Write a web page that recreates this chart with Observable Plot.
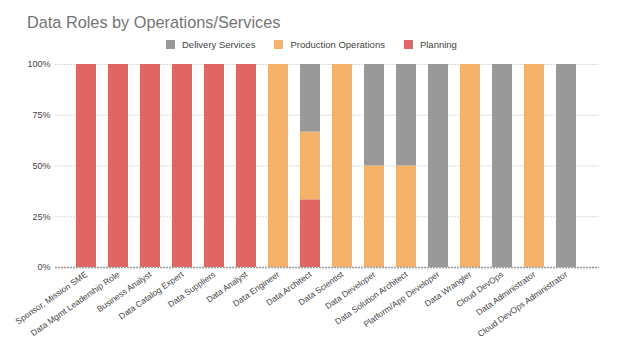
<!DOCTYPE html>
<html>
<head>
<meta charset="utf-8">
<script src="https://cdn.jsdelivr.net/npm/d3@7"></script>
<script src="https://cdn.jsdelivr.net/npm/@observablehq/plot@0.6"></script>
<style>
  body { margin: 0; background: #fff; font-family: "Liberation Sans", Arial, sans-serif; }
  #wrap { position: relative; width: 624px; height: 356px; overflow: hidden; }
  #title { position: absolute; left: 27px; top: 13px; font-size: 16.3px; color: #757575; }
  #legend { position: absolute; left: 166px; top: 39px; font-size: 9.5px; color: #444; display: flex; align-items: center; }
  .sw { display: inline-block; width: 9px; height: 9px; margin-right: 7px; }
  .item { display: flex; align-items: center; margin-right: 19px; }
  #chart { position: absolute; left: 0; top: 50px; }
</style>
</head>
<body>
<div id="wrap">
  <div id="title">Data Roles by Operations/Services</div>
  <div id="legend"></div>
  <div id="chart"></div>
</div>
<script>
const roles = ["Sponsor, Mission SME","Data Mgmt Leadership Role","Business Analyst","Data Catalog Expert","Data Suppliers","Data Analyst","Data Engineer","Data Architect","Data Scientist","Data Developer","Data Solution Architect","Platform/App Developer","Data Wrangler","Cloud DevOps","Data Administrator","Cloud DevOps Administrator"];
const seriesNames = ["Planning","Production Operations","Delivery Services"];
const legendOrder = ["Delivery Services","Production Operations","Planning"];
const seriesColors = ["#e06666","#f6b26b","#999999"];
const planning   = [1,1,1,1,1,1,0,1,0,0,0,0,0,0,0,0];
const production = [0,0,0,0,0,0,1,1,1,1,1,0,1,0,1,0];
const delivery   = [0,0,0,0,0,0,0,1,0,1,1,1,0,1,0,1];
const yTicks = [0, 0.25, 0.5, 0.75, 1];
const yTickLabels = ["0%","25%","50%","75%","100%"];

const valuesBySeries = [planning, production, delivery];
const table = [];
seriesNames.forEach((s, si) => roles.forEach((r, ri) => table.push({role: r, series: s, value: valuesBySeries[si][ri]})));

const legend = document.getElementById("legend");
legendOrder.forEach(name => {
  const d = document.createElement("div");
  d.className = "item";
  d.innerHTML = `<span class="sw" style="background:${seriesColors[seriesNames.indexOf(name)]}"></span>${name}`;
  legend.appendChild(d);
});

const chart = Plot.plot({
  width: 624,
  height: 306,
  marginTop: 14,
  marginBottom: 89,
  marginLeft: 60,
  marginRight: 31,
  style: {fontFamily: "Liberation Sans, Arial, sans-serif", fontSize: "9px", color: "#444", background: "#fff"},
  x: {domain: roles, padding: 0.37, label: null},
  y: {domain: [0, 1], label: null},
  color: {domain: seriesNames, range: seriesColors},
  marks: [
    Plot.ruleY(yTicks.filter(d => d > 0), {stroke: "#d9d9d9", strokeDasharray: "2,1", insetLeft: -5, insetRight: -6}),
    Plot.barY(table, Plot.stackY({x: "role", y: "value", fill: "series", order: seriesNames, offset: "normalize"})),
    Plot.ruleY([0], {stroke: "#999", strokeWidth: 1.5, strokeDasharray: "2,1", insetLeft: -5, insetRight: -6}),
    Plot.axisY({ticks: yTicks, tickSize: 0, tickPadding: 10, label: null, tickFormat: d => yTickLabels[yTicks.indexOf(d)]}),
    Plot.axisX({tickSize: 0, tickRotate: -35, tickPadding: 6, label: null, fontSize: 8.5})
  ]
});
document.getElementById("chart").appendChild(chart);
</script>
</body>
</html>
